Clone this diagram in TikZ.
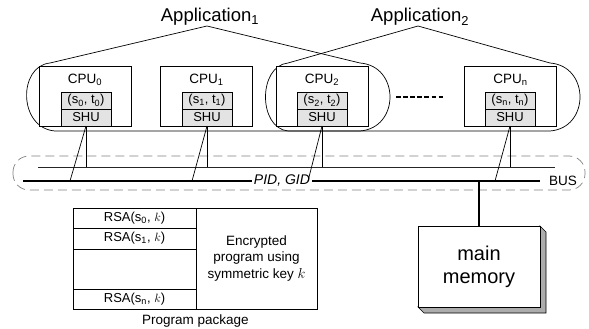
\documentclass[tikz,border=0pt]{standalone}
\usepackage{fontspec}
\setmainfont{Liberation Sans}
\begin{document}
\begin{tikzpicture}[x=1pt,y=-1pt,
  box/.style={draw,line width=0.8pt,inner sep=0pt,outer sep=0pt},
  cpubox/.style={box,fill=white,minimum width=92pt,minimum height=60pt},
  inbox/.style={box,fill=gray!22,minimum width=50pt,minimum height=17pt,font=\fontsize{13}{15}\selectfont},
  lbl/.style={inner sep=0pt,font=\fontsize{13.5}{16}\selectfont},
  applbl/.style={inner sep=0pt,anchor=base,font=\fontsize{18.5}{20}\selectfont},
  appline/.style={line width=0.7pt},
  wire/.style={line width=0.7pt},
  thickwire/.style={line width=2pt},
  cell/.style={box,minimum width=123pt,font=\fontsize{13}{15}\selectfont},
]
\useasboundingbox (0,0) rectangle (589,329);

% application groupings
\draw[appline] (50,63) -- (207,26) -- (360,63) .. controls (400,66) and (400,128) .. (360,131)
  -- (55,131) .. controls (18,128) and (18,66) .. (50,63);
\draw[appline] (288,63) -- (418,26) -- (550,63) .. controls (590,66) and (590,128) .. (550,131)
  -- (288,131) .. controls (258,128) and (258,66) .. (288,63);
\node[applbl] (app1) at (210,22) {Application\textsubscript{1}};
\node[applbl] (app2) at (420,22) {Application\textsubscript{2}};

% CPUs
\node[cpubox] (cpu0) at (85,96) {};
\node[cpubox] (cpu1) at (206.5,96) {};
\node[cpubox] (cpu2) at (322,96) {};
\node[cpubox] (cpun) at (510.5,96) {};
\node[lbl,anchor=base] (l0) at (85,83) {CPU\textsubscript{0}};
\node[lbl,anchor=base] (l1) at (206.5,83) {CPU\textsubscript{1}};
\node[lbl,anchor=base] (l2) at (322,83) {CPU\textsubscript{2}};
\node[lbl,anchor=base] (ln) at (510.5,83) {CPU\textsubscript{n}};
\node[inbox] (st0) at (86,100.5) {(s\textsubscript{0}, t\textsubscript{0})};
\node[inbox] (st1) at (207,100.5) {(s\textsubscript{1}, t\textsubscript{1})};
\node[inbox] (st2) at (322,100.5) {(s\textsubscript{2}, t\textsubscript{2})};
\node[inbox] (stn) at (510,100.5) {(s\textsubscript{n}, t\textsubscript{n})};
\node[inbox] (shu0) at (86,117.5) {SHU};
\node[inbox] (shu1) at (207,117.5) {SHU};
\node[inbox] (shu2) at (322,117.5) {SHU};
\node[inbox] (shun) at (510,117.5) {SHU};

% dots
\draw[line width=2pt,dash pattern=on 4.5pt off 2.6pt] (396,97) -- (445,97);

% bus
\draw[gray,line width=0.7pt,dash pattern=on 9pt off 5pt,rounded corners=16pt] (13,156) rectangle (585,190);
\coordinate (thinL) at (38,167);
\coordinate (thinR) at (555,167);
\coordinate (busL) at (23,181);
\coordinate (busR) at (540,181);
\draw[wire,black!85] (thinL) -- (thinR);
\draw[thickwire] (busL) -- (busR);
\node[inner sep=0pt,inner xsep=2pt,fill=white,font=\fontsize{14}{16}\selectfont\itshape] (pid) at (282,181) {PID, GID};
\node[lbl] (bus) at (563,181) {BUS};

\coordinate (b0) at (70,181);
\coordinate (b1) at (192,181);
\coordinate (b2) at (308,181);
\coordinate (bn) at (495,181);
\foreach \s/\b in {shu0/b0,shu1/b1,shu2/b2,shun/bn}{
  \draw[wire] (\s.south) -- (\s.south |- thinL);
  \draw[wire] (\s.south) -- (\b);
}

% main memory
\node[box,minimum width=122pt,minimum height=81pt,align=center,font=\fontsize{20}{23}\selectfont] (mem) at (479,266.5) {};
\filldraw[fill=gray!65,draw=black,line width=0.7pt] (mem.north east) -- ++(6,6) -- ++(0,81) -- ++(-122,0)
  -- (mem.south west) -- (mem.south east) -- cycle;
\node[box,fill=white,minimum width=122pt,minimum height=81pt,align=center,font=\fontsize{20}{23}\selectfont] (memf) at (479,266.5) {main\\memory};
\draw[thickwire] (memf.north) -- (memf.north |- busL);

% program package
\node[cell,minimum height=20pt] (r0) at (134.5,218) {RSA(s\textsubscript{0}, $k$)};
\node[cell,minimum height=21pt] (r1) at (134.5,238.5) {RSA(s\textsubscript{1}, $k$)};
\node[cell,minimum height=40pt] (r2) at (134.5,269) {};
\node[cell,minimum height=20pt] (rn) at (134.5,299) {RSA(s\textsubscript{n}, $k$)};
\node[box,minimum width=121pt,minimum height=101pt,align=center,font=\fontsize{13.5}{16.5}\selectfont] (enc) at (256.5,258.5)
  {Encrypted\\program using\\symmetric key $k$};
\node[lbl,anchor=base] (pp) at (195.5,324) {Program package};
\end{tikzpicture}
\end{document}
